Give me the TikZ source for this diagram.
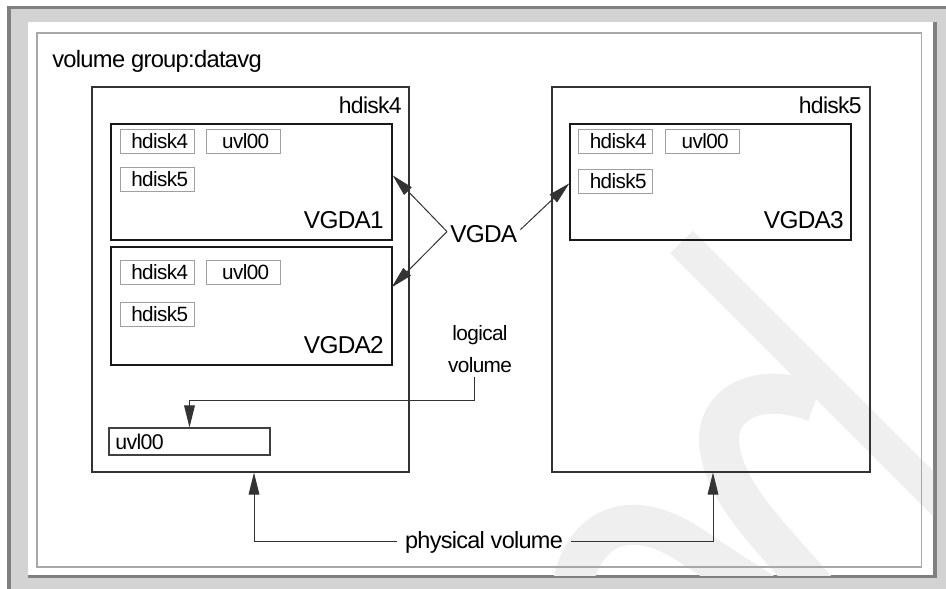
\documentclass[tikz,border=0pt]{standalone}
\usepackage{fontspec}
\setmainfont{Liberation Sans}[LetterSpace=-3]
\usetikzlibrary{arrows.meta,fit,calc}
\definecolor{framelight}{HTML}{D3D3D3}
\definecolor{framedark}{HTML}{808080}
\definecolor{thinline}{HTML}{A8A8A8}
\definecolor{wmark}{HTML}{EFEFEF}
\definecolor{sboxline}{HTML}{A0A0A0}
\begin{document}
\begin{tikzpicture}[x=0.75pt,y=-0.75pt,
  diskbox/.style={draw=black!80, line width=0.8pt, inner sep=0pt},
  vgdabox/.style={draw=black!90, line width=1pt, inner sep=0pt},
  smallbox/.style={draw=sboxline, line width=0.75pt, minimum width=55.5pt, minimum height=18pt, inner sep=0pt, font=\fontsize{15.5}{18}\selectfont},
  lvbox/.style={draw=black!75, line width=0.9pt, inner sep=0pt},
  lbl/.style={inner sep=0pt},
  conn/.style={draw=black!80, line width=0.75pt},
  arrowtip/.style={-{Triangle[length=16.5pt,width=8pt]}},
  wm/.style={draw=wmark}
]
\useasboundingbox (0,0) rectangle (946,589);
% frame
\fill[framelight] (7,6) rectangle (946,589);
\fill[framedark] (7,6) rectangle (946,9);
\fill[framedark] (7,6) rectangle (11,589);
\fill[white] (28,22) rectangle (933,575);
\fill[framedark] (933,22) rectangle (937,578);
\fill[framedark] (28,574.5) rectangle (937,578);
% watermark
\begin{scope}
\clip (28,22) rectangle (933,575);
\draw[wm, line width=24pt] (681.5,242) -- (960,520.5);
\draw[wm, line width=30pt] (815,402) .. controls (750,378) and (712,410) .. (720,450) .. controls (728,500) and (780,545) .. (825,600);
\draw[wm, line width=30pt] (570,600) .. controls (578,525) and (630,505) .. (690,545) .. controls (720,565) and (750,585) .. (775,600);
\end{scope}
\draw[thinline, line width=0.9pt] (37,33) rectangle (921.5,567);

% title
\node[lbl, anchor=base west, font=\fontsize{17.8}{21}\selectfont] (title) at (52,67) {volume group:datavg};

% disks
\node[diskbox, fit={(92,87) (409,472)}] (d4) {};
\node[diskbox, fit={(552,87) (870,472)}] (d5) {};
\node[lbl, anchor=base east, font=\fontsize{17.2}{20}\selectfont] (d4l) at (402,113) {hdisk4};
\node[lbl, anchor=base east, font=\fontsize{17.2}{20}\selectfont] (d5l) at (862,113) {hdisk5};

% VGDA boxes
\node[vgdabox, fit={(111,124) (392,240)}] (v1) {};
\node[vgdabox, fit={(111,247) (392,365)}] (v2) {};
\node[vgdabox, fit={(570,124) (851,240)}] (v3) {};
\node[lbl, anchor=base east, font=\fontsize{18.3}{22}\selectfont] (v1l) at (384,228) {VGDA1};
\node[lbl, anchor=base east, font=\fontsize{18.3}{22}\selectfont] (v2l) at (384,353) {VGDA2};
\node[lbl, anchor=base east, font=\fontsize{18.3}{22}\selectfont] (v3l) at (844,228) {VGDA3};

% small boxes
\node[smallbox] (a1) at (157,141) {\hspace*{4pt}hdisk4};
\node[smallbox] (a2) at (243,141) {\hspace*{4pt}uvl00};
\node[smallbox] (a3) at (157,179.5) {\hspace*{4pt}hdisk5};
\node[smallbox] (b1) at (157,272) {\hspace*{4pt}hdisk4};
\node[smallbox] (b2) at (243,272) {\hspace*{4pt}uvl00};
\node[smallbox] (b3) at (157,314) {\hspace*{4pt}hdisk5};
\node[smallbox] (c1) at (615.5,141) {\hspace*{4pt}hdisk4};
\node[smallbox] (c2) at (702.5,141) {\hspace*{4pt}uvl00};
\node[smallbox] (c3) at (615.5,181) {\hspace*{4pt}hdisk5};

% logical volume box
\node[lvbox, fit={(109,428) (270,455)}] (ulv) {};
\node[lbl, anchor=base west, font=\fontsize{16}{19}\selectfont] (ulvl) at (115,449) {uvl00};

% VGDA label and arrows
\node[lbl, anchor=base west, font=\fontsize{18.3}{22}\selectfont] (vg) at (450,242) {VGDA};
\coordinate (vgwest) at ($(vg.west)+(-3,-2)$);
\coordinate (vgeast) at ($(vg.east)+(3,-4)$);
\coordinate (v1p) at ($(v1.north east)+(0,52)$);
\coordinate (v2p) at ($(v2.north east)+(-1,41)$);
\coordinate (v3p) at ($(v3.north west)+(0,60)$);
\draw[conn, arrowtip] (vgwest) -- (v1p);
\draw[conn, arrowtip] (vgwest) -- (v2p);
\draw[conn, arrowtip] (vgeast) -- (v3p);

% logical volume
\node[lbl, align=center, anchor=base, font=\fontsize{15.6}{24}\selectfont] (lv) at (480,372) {logical\\volume};
\coordinate (lvs) at ($(lv.south)+(-5.5,5)$);
\draw[conn, arrowtip] (lvs) -- ++(0,23.5) -| (ulv.north);

% physical volume
\node[lbl, inner xsep=6pt, anchor=base, font=\fontsize{17.6}{21}\selectfont] (pv) at (484,548) {physical volume};
\draw[conn, arrowtip] (pv.west) -| ($(d4.south)+(3.5,0)$);
\draw[conn, arrowtip] (pv.east) -| ($(d5.south)+(2,0)$);
\end{tikzpicture}
\end{document}
